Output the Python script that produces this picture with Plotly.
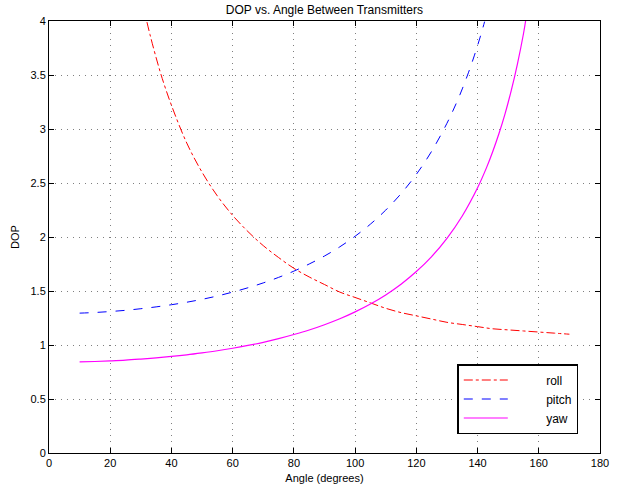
import plotly.graph_objects as go

# ---- data ----
roll_x = [32, 33, 35, 37, 40, 45, 50, 55, 60, 65, 70, 75, 80, 85, 90, 95, 100, 105, 110, 115,
          120, 125, 130, 135, 140, 145, 150, 155, 160, 165, 170]
roll_y = [3.99, 3.873, 3.66, 3.467, 3.22, 2.87, 2.60, 2.38, 2.20, 2.05, 1.92, 1.81, 1.71, 1.63,
          1.56, 1.49, 1.44, 1.39, 1.34, 1.30, 1.27, 1.24, 1.21, 1.19, 1.17, 1.15, 1.14, 1.13,
          1.12, 1.11, 1.10]

pitch_x = [10, 15, 20, 25, 30, 35, 40, 45, 50, 55, 60, 65, 70, 75, 80, 85, 90, 95, 100, 105,
           110, 115, 120, 125, 130, 133, 135, 137, 139, 141, 142.3]
pitch_y = [1.295, 1.301, 1.310, 1.321, 1.336, 1.353, 1.373, 1.396, 1.423, 1.454, 1.490, 1.530,
           1.575, 1.626, 1.684, 1.750, 1.824, 1.909, 2.007, 2.119, 2.249, 2.401, 2.580, 2.794,
           3.053, 3.235, 3.371, 3.520, 3.684, 3.865, 3.994]

yaw_x = [10, 15, 20, 25, 30, 35, 40, 45, 50, 55, 60, 65, 70, 75, 80, 85, 90, 95, 100, 105,
         110, 115, 120, 125, 130, 135, 140, 143, 145, 147, 149, 151, 153, 155, 155.7]
yaw_y = [0.843, 0.847, 0.853, 0.860, 0.870, 0.881, 0.894, 0.909, 0.927, 0.947, 0.970, 0.996,
         1.025, 1.059, 1.097, 1.139, 1.188, 1.243, 1.307, 1.380, 1.464, 1.563, 1.680, 1.819,
         1.988, 2.195, 2.456, 2.647, 2.794, 2.958, 3.143, 3.355, 3.599, 3.882, 4.0]

series_names = ["roll", "pitch", "yaw"]

x_ticks = [0, 20, 40, 60, 80, 100, 120, 140, 160, 180]
y_ticks = [0, 0.5, 1, 1.5, 2, 2.5, 3, 3.5, 4]
y_tick_text = ["0", "0.5", "1", "1.5", "2", "2.5", "3", "3.5", "4"]

FONT = "Liberation Sans, Arial, Helvetica, sans-serif"
PAD = "\u00a0" * 10

fig = go.Figure()
fig.add_trace(go.Scatter(x=roll_x, y=roll_y, mode="lines", name=PAD + series_names[0],
                         line=dict(color="#ff0000", width=1, dash="dashdot", shape="spline")))
fig.add_trace(go.Scatter(x=pitch_x, y=pitch_y, mode="lines", name=PAD + series_names[1],
                         line=dict(color="#0000ff", width=1, dash="dash", shape="spline")))
fig.add_trace(go.Scatter(x=yaw_x, y=yaw_y, mode="lines", name=PAD + series_names[2],
                         line=dict(color="#ff00ff", width=1.2, shape="spline")))

axis_common = dict(
    showline=True, linecolor="black", linewidth=1, mirror="allticks",
    ticks="inside", ticklen=5, tickcolor="black", tickwidth=1,
    showgrid=True, gridcolor="rgba(0,0,0,0.5)", gridwidth=1, griddash="1px,5px",
    zeroline=False, tickfont=dict(family=FONT, size=11, color="black"),
    automargin=False,
)

fig.update_layout(
    width=625, height=486,
    margin=dict(l=49, r=25, t=21, b=33),
    paper_bgcolor="white", plot_bgcolor="white",
    font=dict(family=FONT, size=11, color="black"),
    title=dict(text="DOP vs. Angle Between Transmitters", x=0.519, xanchor="center",
               y=1 - 10 / 486, yanchor="middle", yref="container",
               font=dict(family=FONT, size=12, color="black")),
    xaxis=dict(range=[0, 180], tickvals=x_ticks,
               title=dict(text="Angle (degrees)", standoff=6,
                          font=dict(family=FONT, size=11)),
               **axis_common),
    yaxis=dict(range=[0, 4], tickvals=y_ticks, ticktext=y_tick_text,
               title=dict(text="DOP", standoff=8, font=dict(family=FONT, size=11)),
               **axis_common),
    showlegend=True,
    legend=dict(x=0.741, y=0.206, xanchor="left", yanchor="top",
                bgcolor="white", bordercolor="black", borderwidth=1.5,
                font=dict(family=FONT, size=12, color="black"),
                tracegroupgap=0, itemwidth=44),
)

fig.write_html("out.html")
